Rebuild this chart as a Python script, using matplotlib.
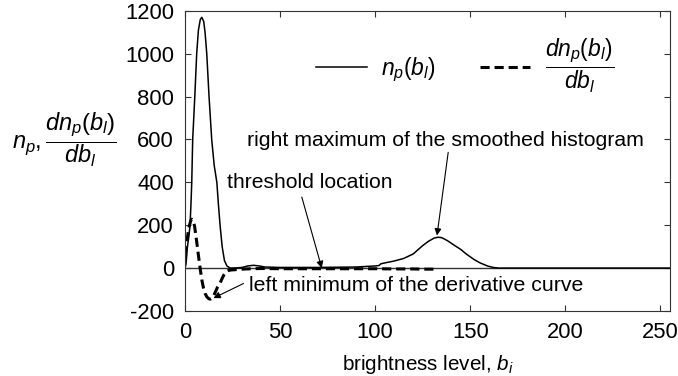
import matplotlib.pyplot as plt

plt.rcParams['font.family'] = 'Liberation Sans'
plt.rcParams['mathtext.fontset'] = 'custom'
plt.rcParams['mathtext.rm'] = 'Liberation Sans'
plt.rcParams['mathtext.it'] = 'Liberation Sans:italic'
plt.rcParams['axes.unicode_minus'] = False

# smoothed histogram n_p(b_l)
hist_x = [0, 0.5, 1.2, 2, 2.6, 3.1, 3.5, 4, 5.1, 6.1, 7, 8, 8.8, 9.8, 10.5, 11.4,
          12.6, 14, 15.3, 16.7, 17.5, 18.4, 19.5, 20.7, 22, 23.7, 27, 30, 33, 36,
          39, 42, 50, 60, 70, 80, 90, 100, 102, 103, 105, 110, 115, 120, 125, 128,
          131, 133, 135, 138, 141, 145, 148, 152, 155, 159, 162, 165, 170, 255]
hist_y = [0, 20, 97, 150, 200, 300, 400, 600, 800, 1000, 1110, 1160, 1170, 1150, 1100, 1000,
          800, 600, 480, 400, 300, 200, 100, 35, 10, 0, 1, 3, 10, 13,
          10, 5, 3, 3, 3, 4, 5, 10, 12, 20, 24, 33, 45, 66, 105, 125,
          140, 144, 142, 128, 110, 87, 65, 40, 25, 10, 3, 0, 0, 0]

# derivative dn_p/db_l
deriv_x = [0, 1, 2, 3, 3.5, 4.3, 5, 6, 7, 7.9, 8.8, 9.6, 10.5, 11.5, 12.5, 13.3,
           14.2, 15, 16, 17, 18.4, 19.5, 20.5, 21.5, 22.6, 24, 27, 30, 35, 40,
           50, 70, 90, 100, 110, 120, 125, 131.6]
deriv_y = [60, 130, 190, 222, 228, 220, 195, 130, 60, 0, -55, -90, -118, -135, -143, -145,
           -140, -130, -110, -90, -70, -48, -30, -18, -12, -9, -7, -5, -3, -2,
           -3, -3, -3, -3, -4, -4, -5, -5]

x_ticks = [0, 50, 100, 150, 200, 250]
y_ticks = [-200, 0, 200, 400, 600, 800, 1000, 1200]

fig = plt.figure(figsize=(6.78, 3.76), dpi=100)
ax = fig.add_axes([0.273, 0.173, 0.715, 0.798])

ax.axhline(0, color='#333333', lw=1.0)
ax.plot(hist_x, hist_y, color='black', lw=1.1, label=r'$n_p(b_l)$')
ax.plot(deriv_x, deriv_y, color='black', lw=2.2, ls=(0, (3, 1.6)),
        label=r'$\dfrac{dn_p(b_l)}{db_l}$')

ax.set_xlim(0, 255)
ax.set_ylim(-200, 1200)
ax.set_xticks(x_ticks)
ax.set_yticks(y_ticks)
ax.tick_params(direction='in', top=True, right=True, length=4, labelsize=15.8,
               color='#333333')
ax.tick_params(axis='x', pad=8)
ax.tick_params(axis='y', pad=8)
for s in ax.spines.values():
    s.set_color('#333333')

ax.set_xlabel(r'brightness level, $b_i$', fontsize=14.9, labelpad=7)
ax.set_ylabel(r'$n_p,\dfrac{dn_p(b_l)}{db_l}$', fontsize=17, rotation=0,
              ha='center', va='center')
ax.yaxis.set_label_coords(-0.249, 0.57)

arrow = dict(arrowstyle='-|>', color='black', lw=0.8, mutation_scale=10,
             shrinkA=0, shrinkB=0)
ax.annotate('right maximum of the smoothed histogram', xy=(132.5, 152),
            xytext=(137, 596), fontsize=15.3, ha='center', va='center')
ax.annotate('', xy=(132.5, 152), xytext=(138.4, 540), arrowprops=arrow)
ax.annotate('threshold location', xy=(71.9, 0), xytext=(65.5, 400),
            fontsize=15.2, ha='center', va='center')
ax.annotate('', xy=(71.9, 0), xytext=(61.4, 331), arrowprops=arrow)
ax.annotate('left minimum of the derivative curve', xy=(14.9, -140),
            xytext=(121.8, -82), fontsize=15.3, ha='center', va='center')
ax.annotate('', xy=(14.9, -140), xytext=(30.7, -72), arrowprops=arrow)

ax.legend(loc='center', bbox_to_anchor=(0.578, 0.817), ncol=2, frameon=False,
          fontsize=16.5, handlelength=2.2, handletextpad=0.65, columnspacing=1.9)

fig.savefig('out.png', dpi=100)
